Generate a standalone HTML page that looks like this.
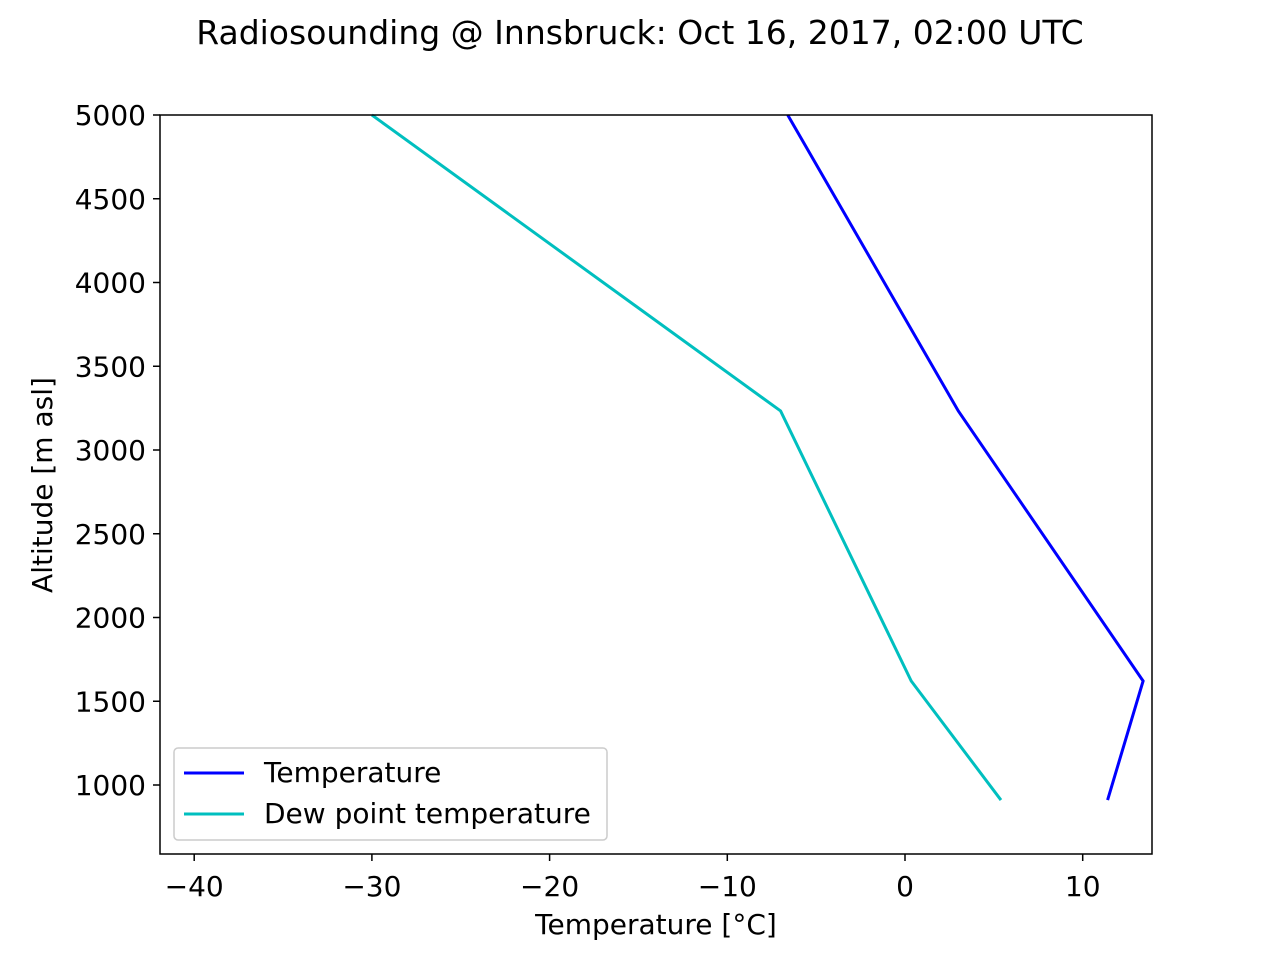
<!DOCTYPE html>
<html><head><meta charset="utf-8"><style>
body{margin:0;background:#fff;font-family:"Liberation Sans","DejaVu Sans",sans-serif}
svg text{font-family:"DejaVu Sans","Liberation Sans",sans-serif;fill:#000}
</style></head><body>
<svg id="chart" width="1280" height="960">
<text x="640" y="44" font-size="33" text-anchor="middle">Radiosounding @ Innsbruck: Oct 16, 2017, 02:00 UTC</text>
<g id="marks"></g>
<rect x="160" y="115" width="992" height="739" fill="none" stroke="#000" stroke-width="1.5"/>
<g id="ticks"></g>
<text x="656" y="934" font-size="28" text-anchor="middle">Temperature [°C]</text>
<text transform="translate(52,485) rotate(-90)" font-size="28" text-anchor="middle">Altitude [m asl]</text>
<g>
<rect x="174" y="748" width="433" height="92" rx="4" fill="#fff" stroke="#ccc" stroke-width="1.5"/>
<line x1="184" y1="773" x2="244" y2="773" stroke="#0000ff" stroke-width="3"/>
<text x="264" y="782" font-size="28">Temperature</text>
<line x1="184" y1="814" x2="244" y2="814" stroke="#00bfbf" stroke-width="3"/>
<text x="264" y="823" font-size="28">Dew point temperature</text>
</g>
</svg>
<script>
const altitudes=[910,1621,3233,5000];
const temperature=[11.4,13.4,3.0,-6.6];
const dewpoint=[5.4,0.35,-7.0,-30.0];
const xTicks=[-40,-30,-20,-10,0,10];
const xTickLabels=["−40","−30","−20","−10","0","10"];
const yTicks=[1000,1500,2000,2500,3000,3500,4000,4500,5000];
const NS="http://www.w3.org/2000/svg";
function xs(v){return 905+v*17.77;}
function ys(v){return 785-(v-1000)*0.1675;}
const marks=document.getElementById('marks');
function line(vals,color,name){
  const p=document.createElementNS(NS,'polyline');
  p.setAttribute('points',vals.map((v,i)=>xs(v)+','+ys(altitudes[i])).join(' '));
  p.setAttribute('fill','none');p.setAttribute('stroke',color);p.setAttribute('stroke-width','3');
  
  
  marks.appendChild(p);
}
line(temperature,'#0000ff','temperature-line');
line(dewpoint,'#00bfbf','dewpoint-line');
const tk=document.getElementById('ticks');
xTicks.forEach((v,i)=>{
  const l=document.createElementNS(NS,'line');
  l.setAttribute('x1',xs(v));l.setAttribute('x2',xs(v));l.setAttribute('y1',854);l.setAttribute('y2',861);
  l.setAttribute('stroke','#000');l.setAttribute('stroke-width','1.5');
  
  
  tk.appendChild(l);
  const t=document.createElementNS(NS,'text');
  t.setAttribute('x',xs(v));t.setAttribute('y',896);t.setAttribute('font-size','28');t.setAttribute('text-anchor','middle');
  t.textContent=xTickLabels[i];
  
  
  tk.appendChild(t);
});
yTicks.forEach(v=>{
  const l=document.createElementNS(NS,'line');
  l.setAttribute('x1',153);l.setAttribute('x2',160);l.setAttribute('y1',ys(v));l.setAttribute('y2',ys(v));
  l.setAttribute('stroke','#000');l.setAttribute('stroke-width','1.5');
  
  
  tk.appendChild(l);
  const t=document.createElementNS(NS,'text');
  t.setAttribute('x',146);t.setAttribute('y',ys(v)+10);t.setAttribute('font-size','28');t.setAttribute('text-anchor','end');
  t.textContent=v;
  
  
  tk.appendChild(t);
});
</script>
</body></html>
